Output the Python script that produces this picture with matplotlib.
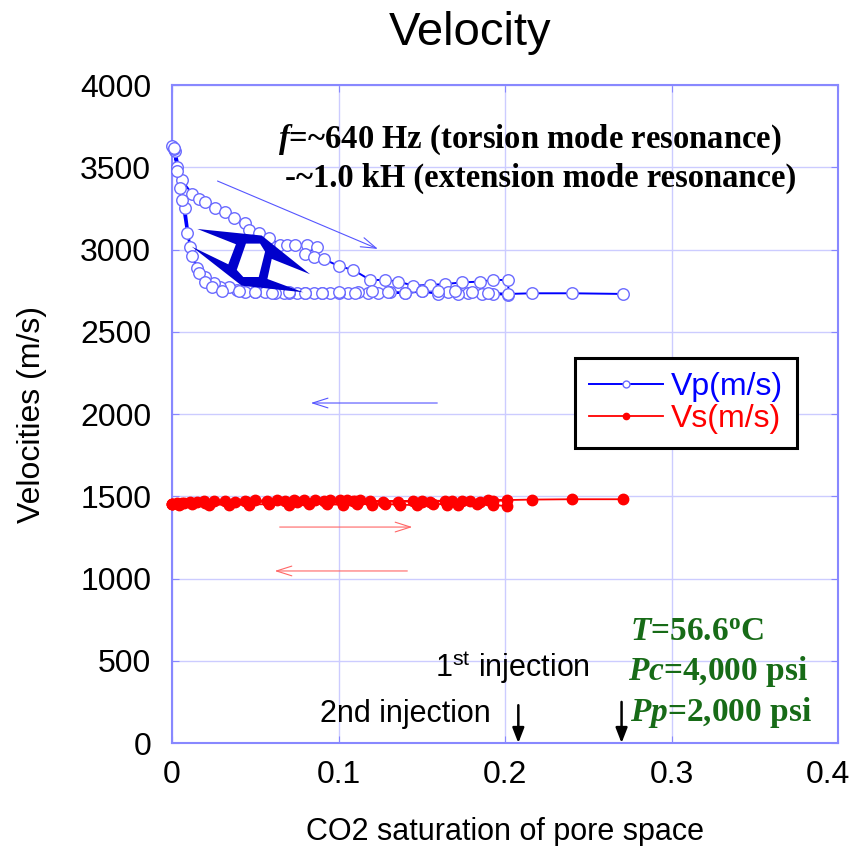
import numpy as np
import matplotlib
matplotlib.use("Agg")
import matplotlib.pyplot as plt
import matplotlib.transforms as mtransforms
from matplotlib.path import Path
from matplotlib.patches import PathPatch

plt.rcParams["mathtext.fontset"] = "custom"
plt.rcParams["mathtext.rm"] = "Liberation Serif:bold"
plt.rcParams["mathtext.it"] = "Liberation Serif:italic:bold"
plt.rcParams["mathtext.bf"] = "Liberation Serif:bold"
plt.rcParams["mathtext.sf"] = "Liberation Sans"

# CO2 saturation / Vp (m/s): 1st injection (upper branch), return, 2nd injection
vp1_x = [0.000, 0.002, 0.006, 0.012, 0.016, 0.020, 0.026, 0.032, 0.037, 0.044, 0.046,
         0.052, 0.058, 0.065, 0.069, 0.074, 0.081, 0.087, 0.080, 0.085, 0.091, 0.100,
         0.109, 0.119, 0.128, 0.136, 0.145, 0.155, 0.164, 0.174, 0.185, 0.193, 0.202]
vp1_y = [3630, 3600, 3420, 3340, 3310, 3290, 3250, 3230, 3190, 3160, 3120,
         3100, 3070, 3030, 3030, 3030, 3028, 3018, 2971, 2957, 2943, 2900,
         2875, 2815, 2815, 2805, 2780, 2785, 2790, 2800, 2805, 2815, 2815]
vp2_x = [0.202, 0.193, 0.186, 0.178, 0.172, 0.166, 0.160, 0.150, 0.140, 0.131, 0.124,
         0.118, 0.112, 0.106, 0.100, 0.095, 0.090, 0.085, 0.080, 0.075, 0.070, 0.067,
         0.062, 0.056, 0.050, 0.044, 0.039, 0.034, 0.029, 0.025, 0.020, 0.015, 0.011,
         0.008, 0.005, 0.003, 0.001]
vp2_y = [2724, 2730, 2728, 2735, 2728, 2740, 2730, 2745, 2735, 2740, 2738,
         2735, 2740, 2735, 2738, 2735, 2734, 2736, 2734, 2738, 2735, 2734,
         2738, 2744, 2744, 2744, 2754, 2774, 2774, 2795, 2835, 2886, 3014,
         3250, 3372, 3500, 3610]
vp3_x = [0.001, 0.003, 0.006, 0.009, 0.012, 0.016, 0.020, 0.024, 0.030, 0.040, 0.050,
         0.060, 0.070, 0.080, 0.090, 0.100, 0.110, 0.120, 0.130, 0.140, 0.150, 0.160,
         0.170, 0.180, 0.190, 0.202, 0.216, 0.240, 0.271]
vp3_y = [3620, 3480, 3300, 3100, 2960, 2860, 2800, 2770, 2750, 2745, 2740,
         2738, 2740, 2735, 2738, 2740, 2735, 2745, 2740, 2738, 2745, 2750,
         2745, 2740, 2738, 2730, 2734, 2734, 2730]

# Vs (m/s)
vs1_x = [0.000, 0.003, 0.007, 0.011, 0.015, 0.019, 0.025, 0.032, 0.038, 0.044, 0.050,
         0.057, 0.063, 0.068, 0.073, 0.079, 0.086, 0.091, 0.095, 0.101, 0.105, 0.109,
         0.113, 0.119, 0.127, 0.136, 0.145, 0.150, 0.155, 0.164, 0.168, 0.174, 0.179,
         0.185, 0.193, 0.201]
vs1_y = [1455, 1458, 1462, 1465, 1468, 1470, 1472, 1470, 1468, 1472, 1475,
         1474, 1476, 1472, 1475, 1478, 1476, 1474, 1478, 1476, 1478, 1474,
         1476, 1470, 1468, 1466, 1470, 1465, 1468, 1472, 1470, 1474, 1470,
         1468, 1472, 1475]
vs2_x = [0.201, 0.193, 0.183, 0.172, 0.165, 0.157, 0.147, 0.137, 0.128, 0.120, 0.111,
         0.103, 0.093, 0.082, 0.070, 0.058, 0.046, 0.034, 0.022, 0.012, 0.004, 0.000]
vs2_y = [1440, 1448, 1452, 1446, 1450, 1455, 1445, 1450, 1452, 1450, 1455,
         1448, 1452, 1455, 1450, 1452, 1450, 1448, 1450, 1452, 1450, 1452]
vs3_x = [0.000, 0.006, 0.020, 0.045, 0.075, 0.110, 0.150, 0.190, 0.216, 0.240, 0.271]
vs3_y = [1455, 1460, 1462, 1465, 1468, 1470, 1472, 1475, 1480, 1482, 1482]

vp_x = vp1_x + vp2_x + vp3_x
vp_y = vp1_y + vp2_y + vp3_y
vs_x = vs1_x + vs2_x + vs3_x
vs_y = vs1_y + vs2_y + vs3_y

x_ticks = [0, 0.1, 0.2, 0.3, 0.4]
x_labels = ["0", "0.1", "0.2", "0.3", "0.4"]
y_ticks = list(range(0, 4001, 500))

# sample sketch (outer outline + hole), data coords
sample_outer = [(0.0152, 3125), (0.0539, 3085), (0.0829, 2850), (0.0599, 2943),
                (0.0573, 2821), (0.0789, 2740), (0.0419, 2780), (0.0118, 3018),
                (0.0338, 2910), (0.0384, 3032)]
sample_hole = [(0.0444, 3036), (0.0529, 3036), (0.0559, 2987), (0.0521, 2833),
               (0.0428, 2833), (0.0389, 2876)]

axis_col = "#8888ff"
grid_col = "#ccccff"
green = "#176b17"
sans = "Liberation Sans"
serif = "Liberation Serif"

fig = plt.figure(figsize=(8.54, 8.46), dpi=100)
ax = fig.add_axes([0.2014, 0.1217, 0.7799, 0.7778])

ax.plot(vp_x, vp_y, "-o", color="#0000ff", lw=1.4, ms=8.3, mfc="white",
        mec="#6a6aff", mew=1.0, label="Vp(m/s)", zorder=3, clip_on=False)
ax.plot(vs_x, vs_y, "-o", color="#ff0000", lw=1.3, ms=7.5, mfc="#ff0000",
        mec="#ff0000", label="Vs(m/s)", zorder=3, clip_on=False)

ax.set_xlim(0, 0.4)
ax.set_ylim(0, 4000)
ax.set_xticks(x_ticks)
ax.set_xticklabels(x_labels)
ax.set_yticks(y_ticks)
ax.grid(True, color=grid_col, lw=1.0)
ax.set_axisbelow(True)
for s in ax.spines.values():
    s.set_color(axis_col)
    s.set_linewidth(1.5)
ax.tick_params(direction="in", length=5, color=axis_col, top=True, right=True,
               labelsize=23)
ax.tick_params(axis="y", pad=15)
ax.tick_params(axis="x", pad=12)
for lab in ax.get_xticklabels() + ax.get_yticklabels():
    lab.set_family(sans)
# last x label sits against the right edge
last = ax.get_xticklabels()[-1]
last.set_horizontalalignment("right")
last.set_transform(last.get_transform() +
                   mtransforms.ScaledTranslation(12 / 100, 0, fig.dpi_scale_trans))

ax.set_xlabel("CO2 saturation of pore space", fontsize=22, family=sans, labelpad=20)
ax.set_ylabel("Velocities (m/s)", fontsize=23, family=sans, labelpad=24)
fig.text(470 / 854, 1 - 33 / 846, "Velocity", fontsize=34, family=sans,
         ha="center", va="center")

# sample drawing
verts = sample_outer + [sample_outer[0]] + sample_hole[::-1] + [sample_hole[-1]]
codes = ([Path.MOVETO] + [Path.LINETO] * (len(sample_outer) - 1) + [Path.CLOSEPOLY]
         + [Path.MOVETO] + [Path.LINETO] * (len(sample_hole) - 1) + [Path.CLOSEPOLY])
ax.add_patch(PathPatch(Path(verts, codes), facecolor="#0000cc", edgecolor="none",
                       zorder=4))

# direction arrows
thin = dict(arrowstyle="->,head_length=1.1,head_width=0.35", lw=0.8)
ax.annotate("", xy=(0.1252, 2997), xytext=(0.0258, 3423),
            arrowprops=dict(thin, color="#5555ff"))
ax.annotate("", xy=(0.0817, 2067), xytext=(0.161, 2067),
            arrowprops=dict(thin, color="#5555ff"))
ax.annotate("", xy=(0.146, 1313), xytext=(0.063, 1313),
            arrowprops=dict(thin, color="#ff6666"))
ax.annotate("", xy=(0.060, 1046), xytext=(0.143, 1046),
            arrowprops=dict(thin, color="#ff6666"))

# injection arrows
blk = dict(arrowstyle="-|>,head_length=0.9,head_width=0.35", lw=1.8, color="black",
           shrinkA=0, shrinkB=0)
ax.annotate("", xy=(0.208, 0), xytext=(0.208, 230), arrowprops=blk, annotation_clip=False)
ax.annotate("", xy=(0.270, 0), xytext=(0.270, 250), arrowprops=blk, annotation_clip=False)
ax.text(0.158, 456, r"1$^{\mathsf{st}}$ injection", fontsize=22, family=sans,
        ha="left", va="center")
ax.text(0.089, 176, "2nd injection", fontsize=22, family=sans,
        ha="left", va="center")

# annotations
ax.text(0.0637, 3670, r"$\mathit{f}$=~640 Hz (torsion mode resonance)", fontsize=23.5,
        family=serif, weight="bold", ha="left", va="center")
ax.text(0.068, 3430, "-~1.0 kH (extension mode resonance)", fontsize=23.5,
        family=serif, weight="bold", ha="left", va="center")
ax.text(0.275, 675, r"$\mathit{T}$=56.6$^{\mathrm{o}}$C", fontsize=24,
        family=serif, weight="bold", color=green, ha="left", va="center")
ax.text(0.274, 432, r"$\mathit{Pc}$=4,000 psi", fontsize=24,
        family=serif, weight="bold", color=green, ha="left", va="center")
ax.text(0.275, 188, r"$\mathit{Pp}$=2,000 psi", fontsize=24,
        family=serif, weight="bold", color=green, ha="left", va="center")

leg = ax.legend(loc="upper left", bbox_to_anchor=(0.605, 0.585), borderaxespad=0,
                fancybox=False, framealpha=1, edgecolor="black",
                prop={"family": sans, "size": 23}, handlelength=2.3,
                markerscale=0.6, borderpad=0.45, labelspacing=0.05, handletextpad=0.25)
leg.get_frame().set_linewidth(2.2)
for t, c in zip(leg.get_texts(), ["#0000ff", "#ff0000"]):
    t.set_color(c)

fig.savefig("out.png", dpi=100)
